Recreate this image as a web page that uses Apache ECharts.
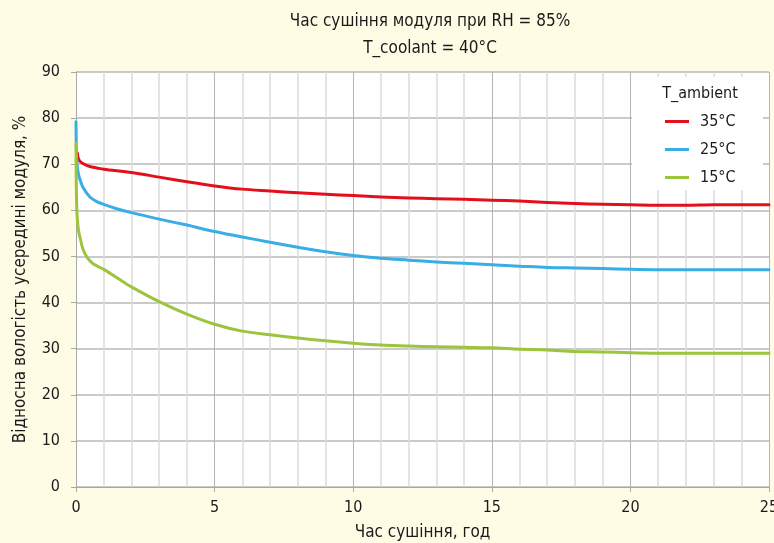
<!DOCTYPE html>
<html>
<head>
<meta charset="utf-8">
<script src="https://cdn.jsdelivr.net/npm/echarts@6/dist/echarts.min.js"></script>
<style>
  html, body { margin: 0; padding: 0; background: #FFFCE6; overflow: hidden; }
  #chart { width: 774px; height: 543px; }
</style>
</head>
<body>
<div id="chart"></div>
<script>
// Drying time of the module, RH = 85 %, coolant 40 °C
const seriesNames = ['35°C', '25°C', '15°C'];
const seriesColors = ['#E3101B', '#39ADE5', '#9CC43D'];

// T_ambient = 35 °C
const hours35 = [0.05, 0.08, 0.15, 0.3, 0.5, 0.75, 1, 2, 3, 4, 5, 6, 7, 8, 9, 10, 11, 12, 13, 14, 15, 16, 17, 18, 19, 20, 21, 22, 23, 24, 25];
const rh35 = [72.4, 71.3, 70.6, 70.0, 69.5, 69.2, 68.9, 68.2, 67.2, 66.2, 65.3, 64.6, 64.2, 63.8, 63.5, 63.2, 62.9, 62.7, 62.5, 62.4, 62.2, 62.0, 61.7, 61.5, 61.3, 61.2, 61.1, 61.1, 61.2, 61.2, 61.2];

// T_ambient = 25 °C
const hours25 = [0, 0.01, 0.03, 0.06, 0.1, 0.15, 0.25, 0.5, 0.75, 1, 1.5, 2, 3, 4, 5, 6, 7, 8, 9, 10, 11, 12, 13, 14, 15, 16, 17, 18, 19, 20, 21, 22, 23, 24, 25];
const rh25 = [79.2, 74.0, 70.5, 68.8, 67.6, 66.6, 65.0, 62.9, 61.9, 61.3, 60.3, 59.5, 58.1, 56.8, 55.4, 54.2, 53.1, 52.0, 51.0, 50.2, 49.6, 49.2, 48.8, 48.5, 48.2, 47.9, 47.6, 47.5, 47.4, 47.2, 47.1, 47.1, 47.1, 47.1, 47.1];

// T_ambient = 15 °C
const hours15 = [0, 0.01, 0.03, 0.06, 0.1, 0.15, 0.25, 0.4, 0.6, 0.8, 1, 1.5, 2, 3, 4, 5, 6, 7, 8, 9, 10, 11, 12, 13, 14, 15, 16, 17, 18, 19, 20, 21, 22, 23, 24, 25];
const rh15 = [74.5, 66.0, 60.0, 57.2, 55.3, 54.0, 51.6, 49.8, 48.5, 47.8, 47.2, 45.3, 43.4, 40.2, 37.5, 35.3, 33.8, 33.0, 32.3, 31.7, 31.2, 30.8, 30.6, 30.4, 30.3, 30.2, 29.9, 29.7, 29.4, 29.3, 29.1, 29.0, 29.0, 29.0, 29.0, 29.0];

const xTicks = [0, 5, 10, 15, 20, 25];
const yTicks = [0, 10, 20, 30, 40, 50, 60, 70, 80, 90];

const FONT = '"Liberation Sans Narrow", "DejaVu Sans Condensed", "Roboto Condensed", sans-serif';

const pairs = (xs, ys) => xs.map((x, i) => [x, ys[i]]);
const seriesData = [pairs(hours35, rh35), pairs(hours25, rh25), pairs(hours15, rh15)];

const chart = echarts.init(document.getElementById('chart'), null, { renderer: 'canvas' });

chart.setOption({
  backgroundColor: '#FFFCE6',
  animation: false,
  textStyle: { fontFamily: FONT },
  title: {
    text: 'Час сушіння модуля при RH = 85%\nT_coolant = 40°C',
    left: 425,
    top: 3,
    textAlign: 'center',
    textStyle: { fontFamily: FONT, fontSize: 17, fontWeight: 'normal', color: '#1a1a1a', lineHeight: 27 }
  },
  grid: {
    left: 76, right: 5, top: 72, bottom: 56,
    outerBoundsMode: 'none',
    containLabel: false,
    show: true, backgroundColor: '#ffffff', borderWidth: 0
  },
  xAxis: {
    type: 'value',
    min: xTicks[0], max: xTicks[xTicks.length - 1], interval: 5,
    name: 'Час сушіння, год',
    nameLocation: 'middle',
    nameGap: 37,
    nameTextStyle: { fontFamily: FONT, fontSize: 17, color: '#1a1a1a' },
    axisLine: { show: true, lineStyle: { color: '#a8a8a8', width: 1 } },
    axisTick: { show: true, length: 5, lineStyle: { color: '#a8a8a8' } },
    axisLabel: { fontFamily: FONT, fontSize: 16, color: '#1a1a1a', margin: 13 },
    splitLine: { show: true, lineStyle: { color: '#b4b4b4', width: 1 } },
    minorTick: { show: false, splitNumber: 5 },
    minorSplitLine: { show: true, lineStyle: { color: '#dcdcdc', width: 1.5 } }
  },
  yAxis: {
    type: 'value',
    min: yTicks[0], max: yTicks[yTicks.length - 1], interval: 10,
    name: 'Відносна вологість усередині модуля, %',
    nameLocation: 'middle',
    nameGap: 47,
    nameTextStyle: { fontFamily: FONT, fontSize: 17, color: '#1a1a1a' },
    axisLine: { show: true, lineStyle: { color: '#a8a8a8', width: 1 } },
    axisTick: { show: true, length: 5, lineStyle: { color: '#a8a8a8' } },
    axisLabel: { fontFamily: FONT, fontSize: 16, color: '#1a1a1a', margin: 16 },
    splitLine: { show: true, lineStyle: { color: '#b8b8b8', width: 1.5 } }
  },
  legend: {
    orient: 'vertical',
    left: 660,
    top: 107,
    itemWidth: 24,
    itemHeight: 3,
    itemGap: 9,
    icon: 'rect',
    data: seriesNames,
    textStyle: { fontFamily: FONT, fontSize: 16, color: '#1a1a1a', padding: [0, 0, 0, 6], lineHeight: 19 },
    z: 6
  },
  graphic: [
    {
      type: 'rect', z: 4,
      shape: { x: 632, y: 77, width: 131, height: 113 },
      style: { fill: '#ffffff' }
    },
    {
      type: 'text', z: 7,
      x: 700, y: 94,
      style: { text: 'T_ambient', fontFamily: FONT, fontSize: 16, fill: '#1a1a1a', textAlign: 'center', textVerticalAlign: 'middle' }
    }
  ],
  series: seriesNames.map((name, i) => ({
    name,
    type: 'line',
    data: seriesData[i],
    showSymbol: false,
    symbol: 'none',
    smooth: 0.3,
    color: seriesColors[i],
    lineStyle: { width: 3, color: seriesColors[i], join: 'round', cap: 'round' },
    z: 2
  }))
});
</script>
</body>
</html>
